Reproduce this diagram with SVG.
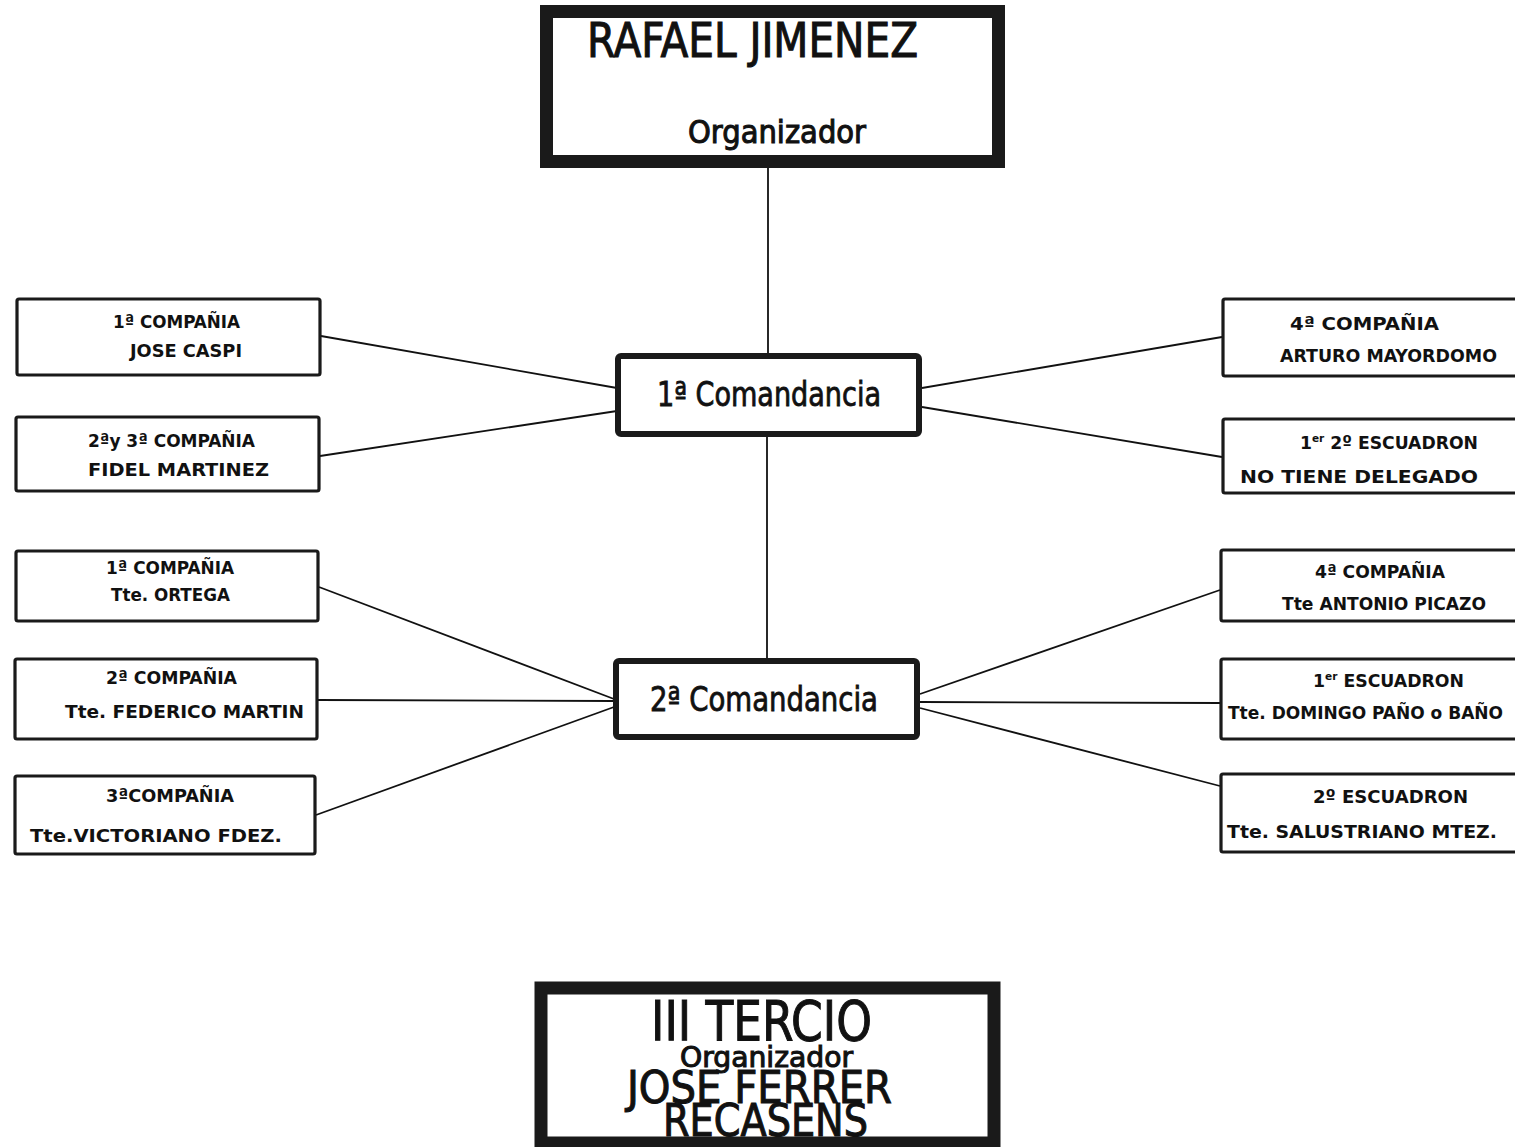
<svg xmlns="http://www.w3.org/2000/svg" width="1515" height="1147" viewBox="0 0 1515 1147">
<style>
  .bg{fill:#ffffff}
  .big{fill:none;stroke:#1a1a1a;stroke-width:13}
  .cmd{fill:none;stroke:#1a1a1a;stroke-width:6}
  .box{fill:none;stroke:#1a1a1a;stroke-width:3.2}
  .ln{fill:none;stroke:#111;stroke-width:1.8}
  text{font-family:"DejaVu Sans Condensed","DejaVu Sans","Liberation Sans",sans-serif;fill:#111}
  .s{font-size:18px;font-weight:bold}
  .m{font-size:34px;stroke:#111;stroke-width:0.8}
  .h{stroke:#111;stroke-width:1}
  .sup{font-size:11px}
</style>
<rect class="bg" x="0" y="0" width="1515" height="1147"/>
<g id="connectors">
  <line class="ln" x1="768" y1="168" x2="768" y2="354"/>
  <line class="ln" x1="767" y1="437" x2="767" y2="659"/>
  <line class="ln" x1="321" y1="336" x2="617" y2="388"/>
  <line class="ln" x1="320" y1="456" x2="617" y2="411"/>
  <line class="ln" x1="922" y1="388" x2="1222" y2="337"/>
  <line class="ln" x1="922" y1="407" x2="1222" y2="457"/>
  <line class="ln" x1="319" y1="587" x2="614" y2="699"/>
  <line class="ln" x1="318" y1="700" x2="614" y2="701"/>
  <line class="ln" x1="316" y1="815" x2="614" y2="707"/>
  <line class="ln" x1="920" y1="694" x2="1220" y2="590"/>
  <line class="ln" x1="920" y1="702" x2="1220" y2="703"/>
  <line class="ln" x1="920" y1="708" x2="1220" y2="786"/>
</g>
<g id="n-rafael">
  <rect class="big" x="546.5" y="11.5" width="452" height="150"/>
  <text class="h" x="587" y="57" font-size="48" textLength="331" lengthAdjust="spacingAndGlyphs">RAFAEL  JIMENEZ</text>
  <text class="h" x="688" y="143" font-size="32" textLength="178" lengthAdjust="spacingAndGlyphs">Organizador</text>
</g>
<g id="n-cmd1">
  <rect class="cmd" x="618" y="356" width="301" height="78" rx="3"/>
  <text class="m" x="657" y="406" textLength="224" lengthAdjust="spacingAndGlyphs">1ª Comandancia</text>
</g>
<g id="n-cmd2">
  <rect class="cmd" x="616" y="661" width="301" height="76" rx="3"/>
  <text class="m" x="650" y="711" textLength="228" lengthAdjust="spacingAndGlyphs">2ª Comandancia</text>
</g>
<g id="n-l1">
  <rect class="box" x="17" y="299" width="303" height="76" rx="2"/>
  <text class="s" x="113" y="328" textLength="127" lengthAdjust="spacingAndGlyphs">1ª COMPAÑIA</text>
  <text class="s" x="130" y="357" textLength="112" lengthAdjust="spacingAndGlyphs">JOSE  CASPI</text>
</g>
<g id="n-l2">
  <rect class="box" x="16" y="417" width="303" height="74" rx="2"/>
  <text class="s" x="88" y="447" textLength="167" lengthAdjust="spacingAndGlyphs">2ªy 3ª COMPAÑIA</text>
  <text class="s" x="88" y="476" textLength="181" lengthAdjust="spacingAndGlyphs">FIDEL  MARTINEZ</text>
</g>
<g id="n-l3">
  <rect class="box" x="16" y="551" width="302" height="70" rx="2"/>
  <text class="s" x="106" y="574" textLength="128" lengthAdjust="spacingAndGlyphs">1ª COMPAÑIA</text>
  <text class="s" x="111" y="601" textLength="119" lengthAdjust="spacingAndGlyphs">Tte. ORTEGA</text>
</g>
<g id="n-l4">
  <rect class="box" x="15" y="659" width="302" height="80" rx="2"/>
  <text class="s" x="106" y="684" textLength="131" lengthAdjust="spacingAndGlyphs">2ª COMPAÑIA</text>
  <text class="s" x="65" y="718" textLength="239" lengthAdjust="spacingAndGlyphs">Tte.  FEDERICO  MARTIN</text>
</g>
<g id="n-l5">
  <rect class="box" x="15" y="776" width="300" height="78" rx="2"/>
  <text class="s" x="106" y="802" textLength="128" lengthAdjust="spacingAndGlyphs">3ªCOMPAÑIA</text>
  <text class="s" x="30" y="842" textLength="252" lengthAdjust="spacingAndGlyphs">Tte.VICTORIANO  FDEZ.</text>
</g>
<g id="n-r1">
  <rect class="box" x="1223" y="299" width="300" height="77" rx="2"/>
  <text class="s" x="1290" y="330" textLength="149" lengthAdjust="spacingAndGlyphs">4ª COMPAÑIA</text>
  <text class="s" x="1280" y="362" textLength="217" lengthAdjust="spacingAndGlyphs">ARTURO MAYORDOMO</text>
</g>
<g id="n-r2">
  <rect class="box" x="1223" y="419" width="300" height="74" rx="2"/>
  <text class="s" x="1300" y="449" textLength="178" lengthAdjust="spacingAndGlyphs">1<tspan class="sup" dy="-7">er</tspan><tspan dy="7">  2º ESCUADRON</tspan></text>
  <text class="s" x="1240" y="483" textLength="238" lengthAdjust="spacingAndGlyphs">NO  TIENE  DELEGADO</text>
</g>
<g id="n-r3">
  <rect class="box" x="1221" y="550" width="300" height="71" rx="2"/>
  <text class="s" x="1315" y="578" textLength="130" lengthAdjust="spacingAndGlyphs">4ª COMPAÑIA</text>
  <text class="s" x="1282" y="610" textLength="204" lengthAdjust="spacingAndGlyphs">Tte ANTONIO  PICAZO</text>
</g>
<g id="n-r4">
  <rect class="box" x="1221" y="659" width="300" height="80" rx="2"/>
  <text class="s" x="1313" y="687" textLength="151" lengthAdjust="spacingAndGlyphs">1<tspan class="sup" dy="-7">er</tspan><tspan dy="7"> ESCUADRON</tspan></text>
  <text class="s" x="1228" y="719" textLength="275" lengthAdjust="spacingAndGlyphs">Tte. DOMINGO  PAÑO o BAÑO</text>
</g>
<g id="n-r5">
  <rect class="box" x="1221" y="774" width="300" height="78" rx="2"/>
  <text class="s" x="1313" y="803" textLength="155" lengthAdjust="spacingAndGlyphs">2º ESCUADRON</text>
  <text class="s" x="1227" y="838" textLength="270" lengthAdjust="spacingAndGlyphs">Tte. SALUSTRIANO  MTEZ.</text>
</g>
<g id="n-tercio">
  <rect class="big" x="541" y="988" width="453" height="155"/>
  <text class="h" x="651" y="1040" font-size="55" textLength="221" lengthAdjust="spacingAndGlyphs">III TERCIO</text>
  <text class="h" x="680" y="1067" font-size="29" textLength="173" lengthAdjust="spacingAndGlyphs">Organizador</text>
  <text class="h" x="627" y="1103" font-size="45" textLength="265" lengthAdjust="spacingAndGlyphs">JOSE  FERRER</text>
  <text class="h" x="663" y="1136" font-size="45" textLength="205" lengthAdjust="spacingAndGlyphs">RECASENS</text>
</g>
</svg>
